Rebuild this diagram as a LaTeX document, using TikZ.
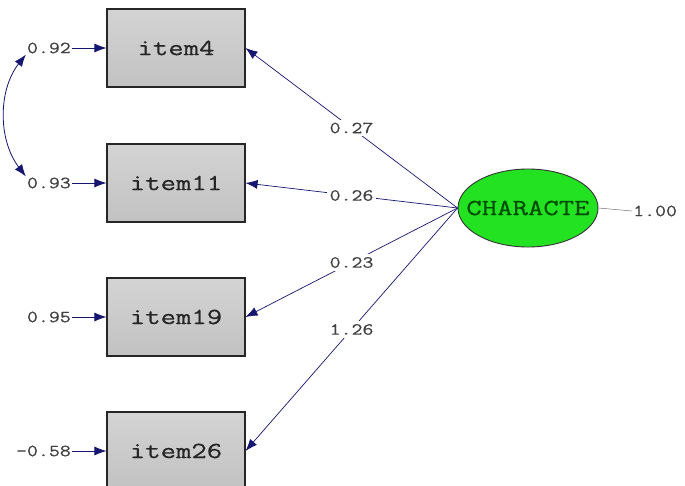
\documentclass[tikz,border=0pt]{standalone}
\usepackage{fontspec}
\newfontfamily\lisfont[FakeStretch=1.3,FakeBold=0.6]{Latin Modern Mono}
\newfontfamily\lissmall[FakeStretch=1.25,FakeBold=0.4]{Latin Modern Mono}
\usetikzlibrary{arrows.meta}
\definecolor{lisnavy}{RGB}{22,22,112}
\definecolor{lisgreen}{RGB}{34,226,34}
\tikzstyle{itembox} = [shape=rectangle, minimum width=138pt, minimum height=78pt, draw=black!85, line width=1.1pt, top color=black!17, bottom color=black!24, font={\lisfont\fontsize{23}{23}\selectfont}, text=black!85, inner sep=0pt]
\tikzstyle{latent} = [shape=ellipse, minimum width=140pt, minimum height=78pt, draw=black!80, line width=0.9pt, fill=lisgreen, font={\lisfont\fontsize{23}{23}\selectfont}, text=black!70!green, inner xsep=-14pt, inner ysep=0pt]
\tikzstyle{numlabel} = [font={\lissmall\fontsize{17}{17}\selectfont}, text=black!75, inner sep=1pt]
\tikzstyle{pathlabel} = [numlabel, fill=white, inner sep=3pt]
\tikzstyle{arr} = [draw=lisnavy, line width=0.8pt, -{Latex[length=12pt,width=9pt]}]
\usetikzlibrary{shapes.geometric}

\begin{document}
\begin{tikzpicture}[x=1pt,y=-1pt]
\useasboundingbox[fill=white] (0,0) rectangle (685,485);

\node[itembox] (item4) at (176,48) {item4};
\node[itembox] (item11) at (176,183) {item11};
\node[itembox] (item19) at (176,317) {item19};
\node[itembox] (item26) at (176,451) {item26};

\node[latent] (charac) at (528,208) {CHARACTE};

\node[numlabel, anchor=east] (e4) at (72,48) {0.92};
\node[numlabel, anchor=east] (e11) at (72,183) {0.93};
\node[numlabel, anchor=east] (e19) at (72,317) {0.95};
\node[numlabel, anchor=east] (e26) at (72,451) {-0.58};
\node[numlabel, anchor=west] (v1) at (632,211) {1.00};

\draw[arr] (e4) -- (item4);
\draw[arr] (e11) -- (item11);
\draw[arr] (e19) -- (item19);
\draw[arr] (e26) -- (item26);

\draw[arr, line width=0.7pt] (charac.west) -- node[pathlabel] {0.27} (item4.east);
\draw[arr, line width=0.7pt] (charac.west) -- node[pathlabel] {0.26} (item11.east);
\draw[arr, line width=0.7pt] (charac.west) -- node[pathlabel] {0.23} (item19.east);
\draw[arr, line width=0.7pt] (charac.west) -- node[pathlabel] {1.26} (item26.east);

\draw[black!55, line width=0.5pt] (charac.east) -- (v1.west);

% error covariance
\draw[draw=lisnavy, line width=0.8pt, {Latex[length=12pt,width=9pt]}-{Latex[length=12pt,width=9pt]}] (e4.south west) .. controls (-2,90) and (-2,140) .. (e11.north west);
\end{tikzpicture}
\end{document}
